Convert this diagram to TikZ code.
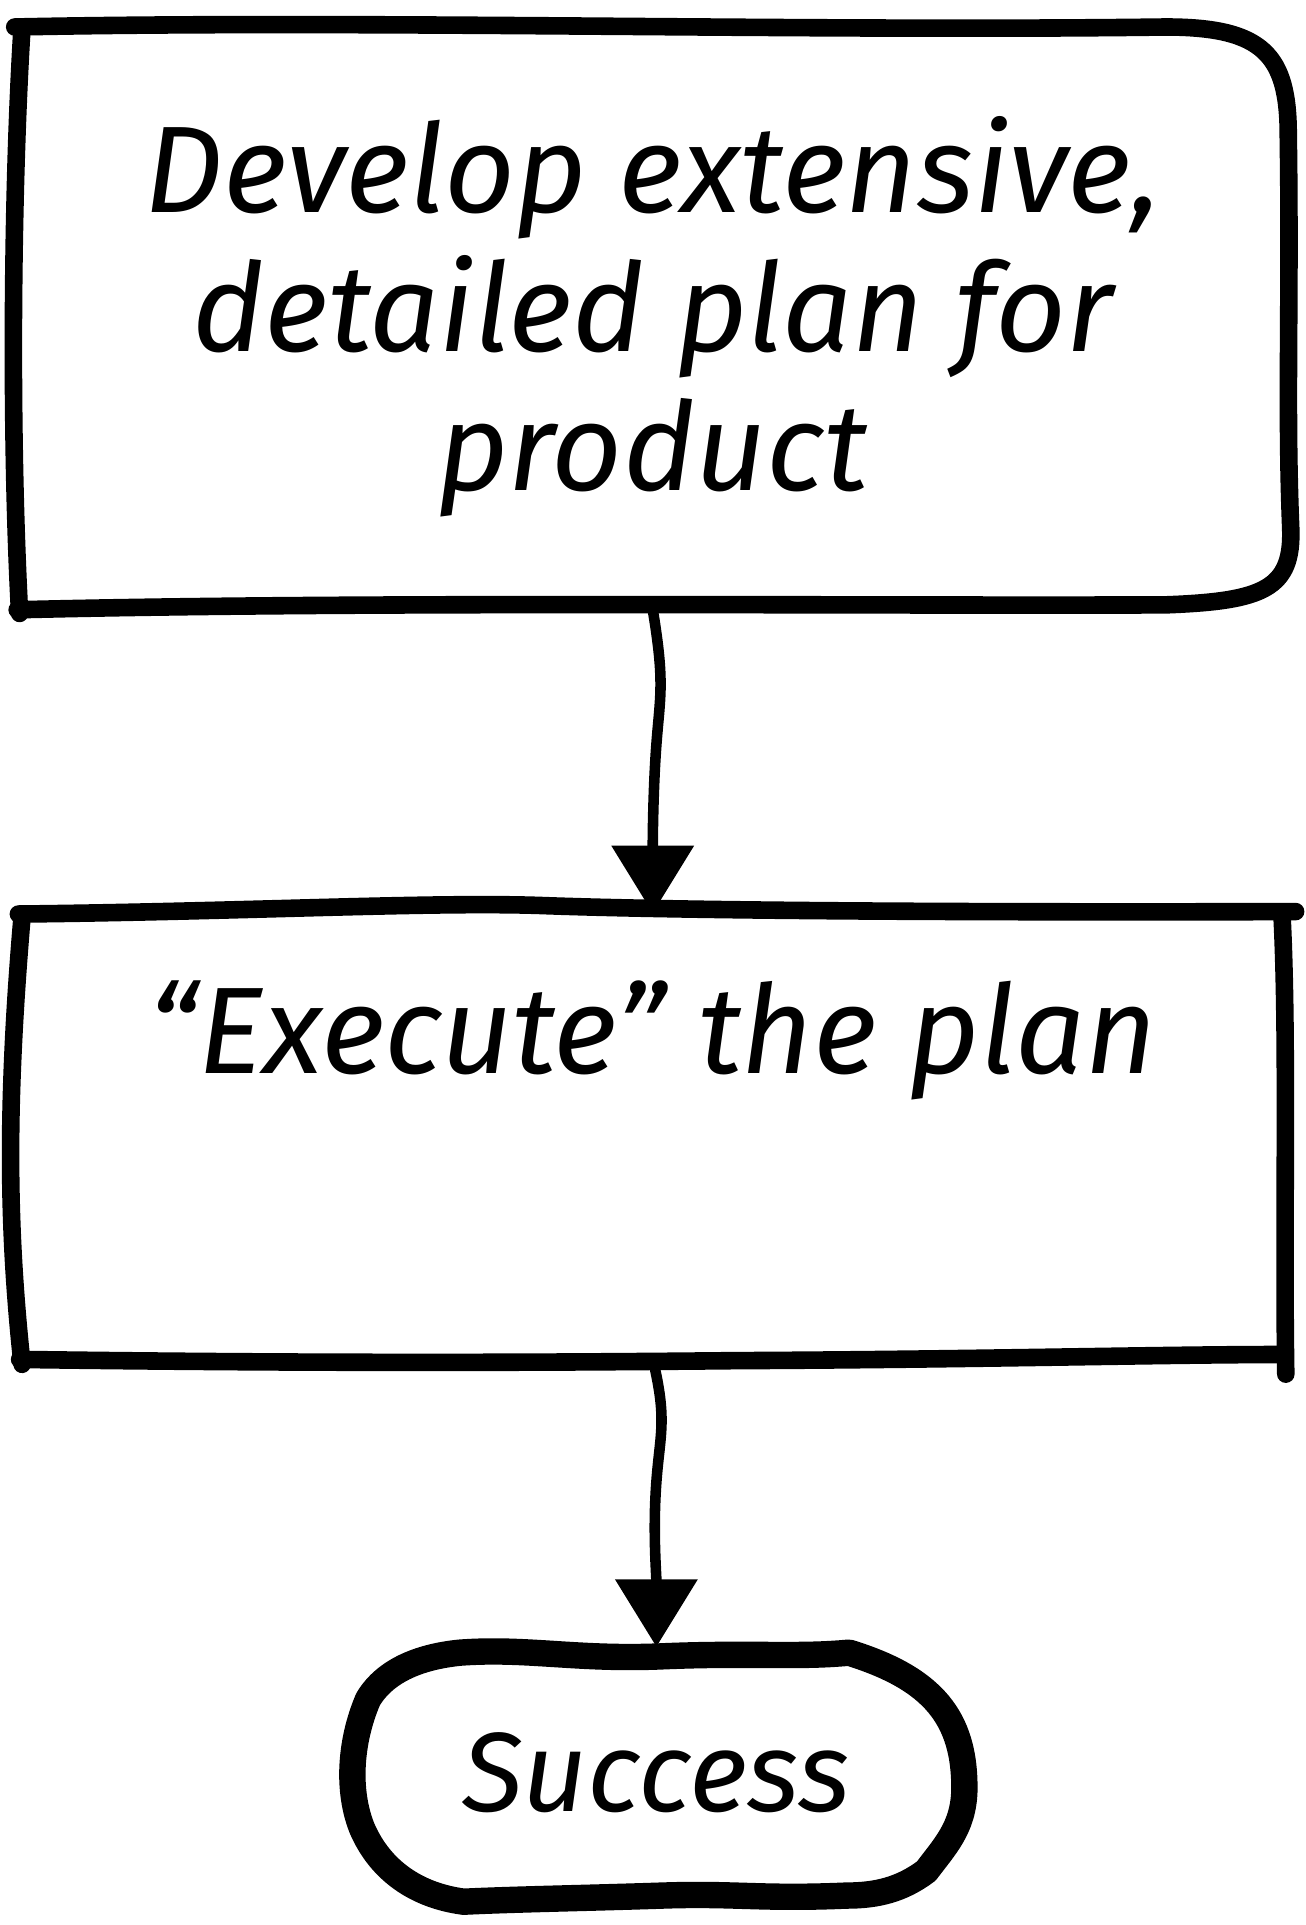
\documentclass[tikz,border=0pt]{standalone}
\usepackage{fontspec}
\setmainfont{Fira Sans}
\usetikzlibrary{arrows.meta,positioning}

\tikzset{
  box/.style={line width=10pt, line cap=round, line join=round},
  terminal/.style={line width=15pt, line cap=round, line join=round},
  flowline/.style={line width=6pt, -{Triangle[length=1.35cm,width=1.6cm]}},
  hand/.style={font=\fontsize{70}{79}\selectfont\itshape, align=center, inner sep=0pt},
  slot/.style={inner sep=0pt}
}

\begin{document}
\begin{tikzpicture}[x=0.0245cm, y=-0.0245cm]
\useasboundingbox (0,0) rectangle (1064,1569);

% Boxes (named), text inside
\node[hand, slot, minimum width=25.48cm, minimum height=11.69cm] (plan) at (532,258)
  {Develop extensive,\\ detailed plan for\\ product};
\node[slot, minimum width=25.36cm, minimum height=8.89cm] (exec) at (532,926) {};
\node[hand] (exectext) [below=1.35cm of exec.north] {``Execute'' the plan};
\node[hand, slot, font=\fontsize{64}{70}\selectfont\itshape,
  minimum width=12.25cm, minimum height=5.02cm] (success) at (535,1445) {Success};

% Hand drawn outline of the plan box
\draw[box] (12,22) .. controls (300,16) and (650,26) .. (950,22)
  .. controls (1030,22) and (1050,45) .. (1050,110)
  .. controls (1052,250) and (1048,330) .. (1052,430)
  .. controls (1054,480) and (1030,490) .. (950,493)
  .. controls (700,494) and (300,490) .. (14,497);
\draw[box] (18,22) .. controls (10,150) and (8,350) .. (16,500);

% Hand drawn outline of the execute box
\draw[box] (15,745) .. controls (200,743) and (350,735) .. (440,738)
  .. controls (520,741) and (700,744) .. (1056,743);
\draw[box] (1045,748) .. controls (1050,850) and (1046,1000) .. (1048,1120);
\draw[box] (16,1108) .. controls (300,1112) and (500,1110) .. (600,1109)
  .. controls (800,1108) and (950,1104) .. (1045,1104);
\draw[box] (18,747) .. controls (5,900) and (6,1000) .. (18,1112);

% Terminal
\draw[terminal] (375,1347) .. controls (430,1343) and (470,1353) .. (540,1350)
  .. controls (610,1347) and (650,1351) .. (692,1347)
  .. controls (760,1368) and (787,1400) .. (786,1460)
  .. controls (785,1490) and (770,1505) .. (755,1525)
  .. controls (735,1540) and (715,1545) .. (690,1545)
  .. controls (620,1548) and (600,1543) .. (540,1545)
  .. controls (480,1547) and (420,1548) .. (378,1550)
  .. controls (340,1545) and (310,1525) .. (295,1490)
  .. controls (283,1460) and (285,1420) .. (300,1385)
  .. controls (315,1360) and (345,1350) .. cycle;

% Connectors
\draw[flowline] (plan.south) .. controls +(10,60) and +(3,-40) .. ++(3,110)
  .. controls +(-3,40) and +(0,-50) .. (exec.north);
\draw[flowline] (exec.south) .. controls +(12,50) and +(3,-40) .. ++(3,100)
  .. controls +(-3,40) and +(0,-60) .. (success.north);

\end{tikzpicture}
\end{document}
